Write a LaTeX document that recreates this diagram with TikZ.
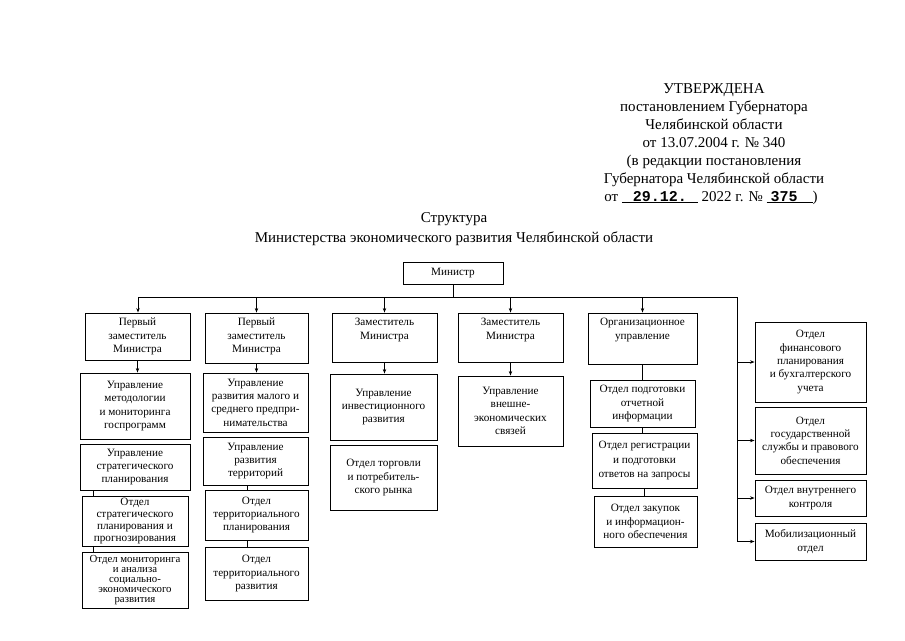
\documentclass[tikz,border=0pt]{standalone}
\usepackage{fontspec}
\setmainfont{Liberation Serif}
\setmonofont{Liberation Mono}
\usetikzlibrary{arrows.meta}
\tikzset{
  box/.style={draw, line width=0.9pt, align=center, inner sep=1pt, font=\fontsize{11.2}{13.3}\selectfont},
  btxt/.style={align=center, inner sep=0pt, font=\fontsize{11.2}{13.5}\selectfont, anchor=north},
  arr/.style={line width=0.8pt, -{Stealth[length=4.5pt,width=3.4pt]}},
  ln/.style={line width=0.8pt},
  hd/.style={font=\fontsize{15}{18}\selectfont, anchor=base, inner sep=0pt},
}
\newcommand\bx[6]{\node[box, minimum width={(#4-#2)*1pt}, minimum height={(#5-#3)*1pt}] (#1) at ({(#2+#4)/2},{(#3+#5)/2}) {#6};}
\newcommand\bxt[6]{\node[box, minimum width={(#4-#2)*1pt}, minimum height={(#5-#3)*1pt}] (#1) at ({(#2+#4)/2},{(#3+#5)/2}) {}; \node[btxt] (#1t) at ([yshift=-5.5pt]#1.north) {#6};}
\begin{document}
\begin{tikzpicture}[x=1pt,y=-1pt]
\useasboundingbox[fill=white] (0,0) rectangle (905,640);
% approval stamp
\node[hd] (a1) at (714,93) {УТВЕРЖДЕНА};
\node[hd] (a2) at (714,111) {постановлением Губернатора};
\node[hd] (a3) at (714,129) {Челябинской области};
\node[hd] (a4) at (714,147) {от 13.07.2004 г. № 340};
\node[hd] (a5) at (714,165) {(в редакции постановления};
\node[hd] (a6) at (714,183) {Губернатора Челябинской области};
\node[hd] (a7) at (711,201) {от \underline{\makebox[76pt]{\texttt{\textbf{29.12.}}}} 2022 г. № \underline{\makebox[46pt][l]{\hspace{4pt}\texttt{\textbf{375}}}})};
% title
\node[hd] (t1) at (454,222) {Структура};
\node[hd] (t2) at (454,242) {Министерства экономического развития Челябинской области};
% minister
\bx{min}{403}{262}{503}{284}{Министр}
\coordinate (busL) at (138,297);
\coordinate (busR) at (737,297);
\coordinate (x1) at (93,0);
\coordinate (x2) at (247,0);
% column 1
\bxt{c1h}{85}{313}{190}{360}{Первый\\заместитель\\Министра}
\bx{c1a}{80}{373}{190}{439}{Управление\\методологии\\и мониторинга\\госпрограмм}
\bx{c1b}{80}{444}{190}{490}{Управление\\стратегического\\планирования}
\node[box, font=\fontsize{11.2}{12}\selectfont, minimum width=106pt, minimum height=50pt] (c1c) at (135,521) {Отдел\\стратегического\\планирования и\\прогнозирования};
\node[box, font=\fontsize{10.8}{10.2}\selectfont, minimum width=106pt, minimum height=56pt] (c1d) at (135,580) {Отдел мониторинга\\и анализа\\социально-\\экономического\\развития};
% column 2
\bxt{c2h}{205}{313}{308}{363}{Первый\\заместитель\\Министра}
\bx{c2a}{203}{373}{308}{432}{Управление\\развития малого и\\среднего предпри-\\нимательства}
\bx{c2b}{203}{437}{308}{485}{Управление\\развития\\территорий}
\bx{c2c}{205}{490}{308}{540}{Отдел\\территориального\\планирования}
\bx{c2d}{205}{547}{308}{600}{Отдел\\территориального\\развития}
% column 3
\bxt{c3h}{332}{313}{437}{362}{Заместитель\\Министра}
\bx{c3a}{330}{374}{437}{440}{Управление\\инвестиционного\\развития}
\bx{c3b}{330}{445}{437}{510}{Отдел торговли\\и потребитель-\\ского рынка}
% column 4
\bxt{c4h}{458}{313}{563}{362}{Заместитель\\Министра}
\bx{c4a}{458}{376}{563}{446}{Управление\\внешне-\\экономических\\связей}
% column 5
\bxt{c5h}{588}{313}{697}{364}{Организационное\\управление}
\bx{c5a}{590}{380}{695}{427}{Отдел подготовки\\отчетной\\информации}
\node[box, font=\fontsize{11.2}{14.3}\selectfont, minimum width=105pt, minimum height=55pt] (c5b) at (644.5,460.5) {Отдел регистрации\\и подготовки\\ответов на запросы};
\bx{c5c}{594}{496}{697}{547}{Отдел закупок\\и информацион-\\ного обеспечения}
% right column
\bx{r1}{755}{322}{866}{402}{Отдел\\финансового\\планирования\\и бухгалтерского\\учета}
\bx{r2}{755}{407}{866}{474}{Отдел\\государственной\\службы и правового\\обеспечения}
\bx{r3}{755}{480}{866}{516}{Отдел внутреннего\\контроля}
\bx{r4}{755}{523}{866}{560}{Мобилизационный\\отдел}
% connectors
\draw[ln] (min.south) -- (min.south |- busL);
\draw[ln] (busL) -- (busR);
\draw[arr] (busL) -- (busL |- c1h.north);
\draw[arr] (c2h.north |- busL) -- (c2h.north);
\draw[arr] (c3h.north |- busL) -- (c3h.north);
\draw[arr] (c4h.north |- busL) -- (c4h.north);
\draw[arr] (c5h.north |- busL) -- (c5h.north);
\draw[arr] (c1h.south) -- (c1h.south |- c1a.north);
\draw[arr] (c2h.south) -- (c2h.south |- c2a.north);
\draw[arr] (c3h.south) -- (c3h.south |- c3a.north);
\draw[arr] (c4h.south) -- (c4h.south |- c4a.north);
\draw[ln] (c5h.south) -- (c5h.south |- c5a.north);
\draw[ln] (c5a.south) -- (c5a.south |- c5b.north);
\draw[ln] (c5b.south) -- (c5b.south |- c5c.north);
\draw[ln] (c1b.south -| x1) -- (c1c.north -| x1);
\draw[ln] (c1c.south -| x1) -- (c1d.north -| x1);
\draw[ln] (c2b.south -| x2) -- (c2c.north -| x2);
\draw[ln] (c2c.south -| x2) -- (c2d.north -| x2);
\draw[ln] (busR) -- (busR |- r4.west);
\draw[arr] (busR |- r1.west) -- (r1.west);
\draw[arr] (busR |- r2.west) -- (r2.west);
\draw[arr] (busR |- r3.west) -- (r3.west);
\draw[arr] (busR |- r4.west) -- (r4.west);
\end{tikzpicture}
\end{document}
